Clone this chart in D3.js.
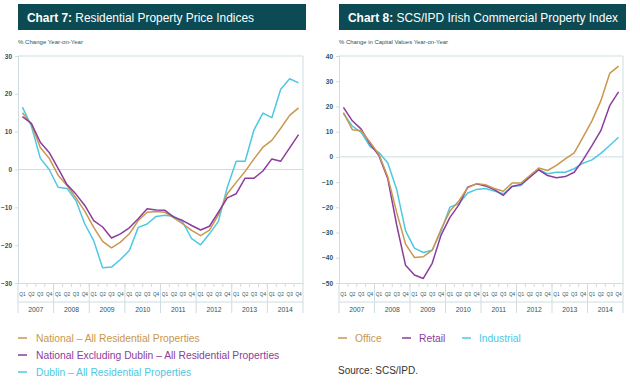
<!DOCTYPE html>
<html><head><meta charset="utf-8">
<script src="https://cdn.jsdelivr.net/npm/d3@7"></script>
<style>
html,body{margin:0;padding:0;background:#fff;}
svg{display:block;font-family:"Liberation Sans",Arial,Helvetica,sans-serif;}
</style></head>
<body><svg id="c" width="640" height="385"></svg>
<script>
const years = ["2007","2008","2009","2010","2011","2012","2013","2014"];
const quarters = ["Q1","Q2","Q3","Q4"];

// Chart 7 series (% change y-o-y), 2007Q1..2014Q4
const national = [15, 12, 5.8, 3, -1.5, -4.2, -7.5, -11, -15.3, -19, -20.7, -19.2, -17, -13.5, -11.3, -11.1, -11.3, -12.8, -14.4, -16.1, -17.5, -16, -12, -6.4, -3.4, -0.5, 2.8, 5.9, 7.7, 10.9, 14.3, 16.3];
const exDublin = [14, 12.2, 7.2, 4.5, 0.3, -4, -6.5, -9.5, -13.5, -15.2, -18.1, -17, -15.4, -13, -10.4, -10.7, -10.8, -12.6, -13.5, -14.8, -16, -15, -11.3, -7.5, -6.4, -2.3, -2.3, -0.4, 2.8, 2.2, 5.7, 9.2];
const dublin = [16.5, 11.5, 3, 0, -4.7, -5, -8.2, -14.4, -18.8, -26, -25.8, -23.8, -21.4, -15.3, -14.4, -12.4, -12.1, -12.4, -13.9, -18.3, -19.9, -17, -13.7, -4.7, 2.2, 2.2, 10.5, 14.9, 13.7, 21.2, 24, 22.9];
const ticks7 = [30, 20, 10, 0, -10, -20, -30];

// Chart 8 series (% change in capital values y-o-y)
const office = [17.6, 10.8, 10.4, 5.8, 1, -8, -22, -34.6, -39.9, -39.6, -37, -28.7, -21.5, -17.5, -12.3, -10.6, -11, -12.5, -13.6, -10.4, -10.4, -7.4, -4.4, -5.4, -3.4, -0.8, 1.6, 7.8, 14.3, 22.2, 33.1, 36];
const retail = [19.6, 14.3, 11, 5.1, 0.5, -8.7, -27, -43, -46.8, -48.2, -42.2, -31, -24, -19, -12, -10.7, -11.5, -13, -15.3, -11.7, -10.9, -8, -5.1, -7.4, -8.3, -7.8, -6.1, -1.2, 4.5, 10.4, 20.3, 25.8];
const industrial = [17.2, 12.2, 9.7, 4.1, 1.7, -2.4, -12.9, -29.3, -36.2, -37.9, -37, -29.4, -19.9, -18.6, -14.3, -12.9, -12.5, -13.5, -14.6, -11.7, -11.3, -8, -5.1, -6.7, -6.1, -6.1, -4.7, -2.5, -1.2, 1.4, 4.5, 7.8];
const ticks8 = [40, 30, 20, 10, 0, -10, -20, -30, -40, -50];

const GOLD = "#c9974e", PURPLE = "#8c3d9c", CYAN = "#4ec8e2";
const TEAL = "#0d4b54", AXC = "#cddde1", LBL = "#2d5561";

const svg = d3.select("#c");
const periods = [];
years.forEach(y => quarters.forEach(q => periods.push(y + q)));

function fit(sel, target) {
  const n = sel.node();
  const w = n.getComputedTextLength();
  const fs = parseFloat(sel.attr("font-size"));
  sel.attr("font-size", (fs * target / w).toFixed(2));
}

function chart(o) {
  const g = svg.append("g");
  // title box
  g.append("rect").attr("x", o.x0).attr("y", 4).attr("width", o.x1 + 3 - o.x0).attr("height", 26).attr("fill", TEAL);
  const t = g.append("text").attr("x", o.x0 + 9).attr("y", 21.5).attr("fill", "#fff").attr("font-size", 12);
  t.append("tspan").attr("font-weight", "bold").text(o.num + " ");
  t.append("tspan").text(o.title);
  fit(t, o.titleW);
  const s = g.append("text").attr("x", o.x0).attr("y", 44).attr("fill", LBL).attr("font-size", 6.3).text(o.sub);
  fit(s, o.subW);

  const x = d3.scaleBand().domain(periods).range([o.x0, o.x1]);
  const y = d3.scaleLinear().domain([o.ymin, o.ymax]).range([283, 56]);
  const bw = x.bandwidth();

  // frame
  g.append("line").attr("x1", o.x0).attr("x2", o.x1).attr("y1", 56).attr("y2", 56).attr("stroke", AXC);
  g.append("line").attr("x1", o.x1).attr("x2", o.x1).attr("y1", 56).attr("y2", 313).attr("stroke", AXC);
  g.append("line").attr("x1", o.x0).attr("x2", o.x1).attr("y1", y(0)).attr("y2", y(0)).attr("stroke", AXC);

  // y axis
  const ya = d3.axisLeft(y).tickValues(o.ticks).tickSize(3).tickPadding(3).tickFormat(d3.format("d"));
  const yg = g.append("g").attr("transform", `translate(${o.x0},0)`).call(ya);
  yg.select(".domain").attr("stroke", AXC);
  yg.selectAll(".tick line").attr("stroke", AXC);
  yg.selectAll("text").attr("fill", LBL).attr("font-size", 6.5).attr("font-weight", "bold").attr("font-family", "Liberation Sans, Arial, sans-serif");

  // x axis (quarters)
  const xa = d3.axisBottom(x).tickSize(0).tickPadding(9).tickFormat(d => d.slice(4));
  const xg = g.append("g").attr("transform", `translate(0,283)`).call(xa);
  xg.select(".domain").attr("stroke", AXC);
  xg.selectAll("text").attr("fill", LBL).attr("font-size", 5.6)
    .attr("textLength", 6.3).attr("lengthAdjust", "spacingAndGlyphs")
    .attr("font-family", "Liberation Sans, Arial, sans-serif");
  // quarter tick marks
  g.selectAll(".qt").data(periods.slice(1)).enter().append("line")
    .attr("x1", d => x(d)).attr("x2", d => x(d)).attr("y1", 283).attr("y2", 287).attr("stroke", AXC);
  // separator line under quarters
  g.append("line").attr("x1", o.x0).attr("x2", o.x1).attr("y1", 302).attr("y2", 302).attr("stroke", AXC);
  // year separators
  g.selectAll(".ys").data(years).enter().append("line")
    .attr("x1", d => x(d + "Q1")).attr("x2", d => x(d + "Q1")).attr("y1", 283).attr("y2", 313).attr("stroke", AXC);
  g.selectAll(".yl").data(years).enter().append("text")
    .attr("x", d => x(d + "Q1") + bw * 2).attr("y", 312).attr("text-anchor", "middle")
    .attr("fill", LBL).attr("font-size", 6.8).text(d => d);

  const line = d3.line().x((d, i) => x(periods[i]) + bw / 2).y(d => y(d));
  o.series.forEach(s => {
    g.append("path").datum(s.v).attr("d", line).attr("fill", "none").attr("stroke", s.c)
      .attr("stroke-width", 1.5).attr("stroke-linejoin", "round");
  });
}

chart({x0: 18, x1: 303, ymin: -30, ymax: 30, ticks: ticks7, num: "Chart 7:", title: "Residential Property Price Indices",
  sub: "% Change Year-on-Year", titleW: 227, subW: 65,
  series: [{v: dublin, c: CYAN}, {v: national, c: GOLD}, {v: exDublin, c: PURPLE}]});
chart({x0: 339, x1: 623, ymin: -50, ymax: 40, ticks: ticks8, num: "Chart 8:", title: "SCS/IPD Irish Commercial Property Index",
  sub: "% Change in Capital Values Year-on-Year", titleW: 270, subW: 109,
  series: [{v: industrial, c: CYAN}, {v: retail, c: PURPLE}, {v: office, c: GOLD}]});

// legends
const leg7 = [{n: "National \u2013 All Residential Properties", c: GOLD},
  {n: "National Excluding Dublin \u2013 All Residential Properties", c: PURPLE},
  {n: "Dublin \u2013 All Residential Properties", c: CYAN}];
leg7.forEach((d, i) => {
  const yy = 338 + i * 17;
  svg.append("line").attr("x1", 18).attr("x2", 27).attr("y1", yy).attr("y2", yy).attr("stroke", d.c).attr("stroke-width", 1.5);
  svg.append("text").attr("x", 36).attr("y", yy + 3.5).attr("fill", d.c).attr("font-size", 10.3).text(d.n);
});
const leg8 = [{n: "Office", c: GOLD, x: 338}, {n: "Retail", c: PURPLE, x: 402}, {n: "Industrial", c: CYAN, x: 462}];
leg8.forEach(d => {
  svg.append("line").attr("x1", d.x).attr("x2", d.x + 9).attr("y1", 338).attr("y2", 338).attr("stroke", d.c).attr("stroke-width", 1.5);
  svg.append("text").attr("x", d.x + 17).attr("y", 341.5).attr("fill", d.c).attr("font-size", 10.3).text(d.n);
});
svg.append("text").attr("x", 338).attr("y", 374).attr("fill", "#333").attr("font-size", 10).text("Source: SCS/IPD.");
</script></body></html>
